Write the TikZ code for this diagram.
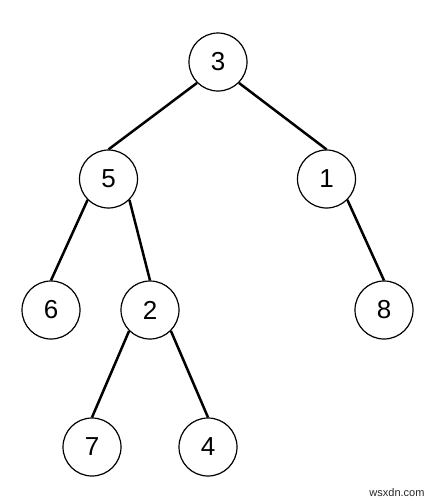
\documentclass[tikz,border=0pt]{standalone}
\usepackage{fontspec}
\setmainfont{Liberation Sans}
\begin{document}
\begin{tikzpicture}[x=1pt,y=-1pt,
  tnode/.style={draw,circle,line width=1.2pt,minimum size=58pt,inner sep=0pt,font=\fontsize{26}{26}\selectfont},
  edge/.style={line width=2.5pt}]
\useasboundingbox (0,0) rectangle (431,504);
\node[tnode] (n3) at (218,62) {3};
\node[tnode] (n5) at (108.5,179) {5};
\node[tnode] (n1) at (326.5,179) {1};
\node[tnode] (n6) at (51,310) {6};
\node[tnode] (n2) at (150,310) {2};
\node[tnode] (n8) at (384,310) {8};
\node[tnode] (n7) at (92,447) {7};
\node[tnode] (n4) at (208,447) {4};
\draw[edge] (n3.south west) -- (n5.north);
\draw[edge] (n3.south east) -- (n1.north);
\draw[edge] (n5.south west) -- (n6.north);
\draw[edge] (n5.south east) -- (n2.north);
\draw[edge] (n1.south east) -- (n8.north);
\draw[edge] (n2.south west) -- (n7.north);
\draw[edge] (n2.south east) -- (n4.north);
\node[anchor=east,text=black!85,font=\fontsize{11}{11}\selectfont] (wm) at (428,493) {wsxdn.com};
\end{tikzpicture}
\end{document}
